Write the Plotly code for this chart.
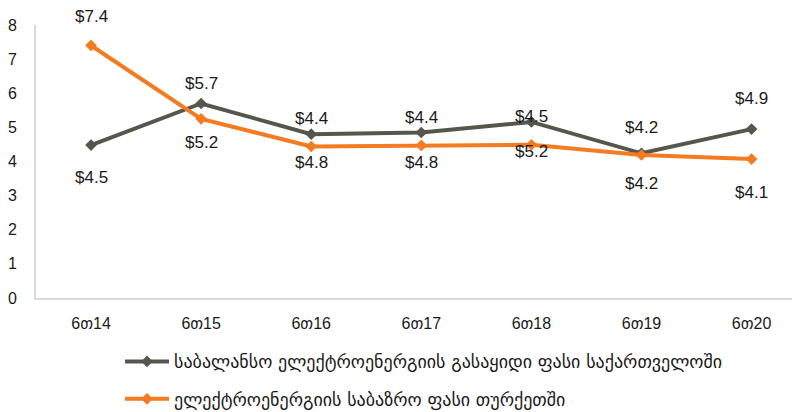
import plotly.graph_objects as go

categories = ["6თ14", "6თ15", "6თ16", "6თ17", "6თ18", "6თ19", "6თ20"]
georgia_values = [4.48, 5.70, 4.80, 4.85, 5.16, 4.24, 4.95]
turkey_values = [7.40, 5.25, 4.44, 4.47, 4.49, 4.19, 4.07]
georgia_labels = ["$4.5", "$5.7", "$4.4", "$4.4", "$4.5", "$4.2", "$4.9"]
turkey_labels = ["$7.4", "$5.2", "$4.8", "$4.8", "$5.2", "$4.2", "$4.1"]
georgia_name = "საბალანსო ელექტროენერგიის გასაყიდი ფასი საქართველოში"
turkey_name = "ელექტროენერგიის საბაზრო ფასი თურქეთში"

# label vertical offsets (pixels, positive = up)
georgia_shift = [-32, 20, 16, 15, 5, 26, 31]
turkey_shift = [29, -24, -16, -17, -7, -28, -33]

GRAY = "#56564C"
ORANGE = "#F47B20"
FONT = "Arial, Liberation Sans, DejaVu Sans, sans-serif"

fig = go.Figure()
fig.add_trace(go.Scatter(
    x=categories, y=georgia_values, name=georgia_name, mode="lines+markers",
    legendgroup="g",
    line=dict(color=GRAY, width=4), marker=dict(symbol="diamond", size=9, color=GRAY),
))
fig.add_trace(go.Scatter(
    x=categories, y=turkey_values, name=turkey_name, mode="lines+markers",
    legendgroup="t",
    line=dict(color=ORANGE, width=4), marker=dict(symbol="diamond", size=9, color=ORANGE),
))

annotations = []
for vals, labs, shifts in [(georgia_values, georgia_labels, georgia_shift),
                           (turkey_values, turkey_labels, turkey_shift)]:
    for c, v, t, s in zip(categories, vals, labs, shifts):
        annotations.append(dict(x=c, y=v, text=t, showarrow=False, yshift=s,
                                font=dict(size=17, color="#1a1a1a", family=FONT)))

fig.update_layout(
    width=800, height=430,
    margin=dict(l=28, r=8, t=17, b=140),
    paper_bgcolor="white", plot_bgcolor="white",
    font=dict(family=FONT, size=16, color="#1a1a1a"),
    showlegend=True,
    legend=dict(orientation="v", x=0.110, y=-0.1656, xanchor="left", yanchor="top",
                font=dict(size=18, family="DejaVu Sans, sans-serif", color="#1a1a1a"),
                itemwidth=44,
                traceorder="grouped", tracegroupgap=11, bgcolor="rgba(0,0,0,0)"),
    annotations=annotations,
)
fig.update_xaxes(type="category", range=[-0.5, 6.44], showline=True, linecolor="#D9D9D9",
                 linewidth=2, showgrid=False, ticks="", ticklabelstandoff=10, automargin=False,
                 tickfont=dict(size=16, family=FONT, color="#1a1a1a"))
fig.update_yaxes(range=[0, 8], dtick=1, showline=True, linecolor="#D9D9D9", linewidth=2,
                 showgrid=False, zeroline=False, ticks="", ticklabelstandoff=14, automargin=False,
                 tickfont=dict(size=16, family=FONT, color="#1a1a1a"))

fig.write_html("out.html")
